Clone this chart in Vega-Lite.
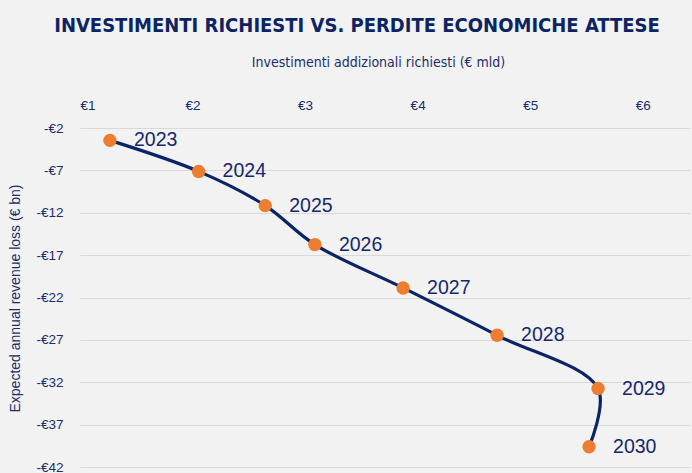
{
  "$schema": "https://vega.github.io/schema/vega-lite/v6.json",
  "autosize": {"type": "none"},
  "width": 610,
  "height": 339,
  "padding": {"left": 80, "top": 128, "right": 2, "bottom": 6},
  "background": "#f2f2f2",
  "config": {
    "view": {"stroke": null},
    "font": "Liberation Sans"
  },
  "title": {
    "text": "INVESTIMENTI RICHIESTI VS. PERDITE ECONOMICHE ATTESE",
    "font": "DejaVu Sans Condensed, Liberation Sans",
    "fontSize": 20,
    "fontWeight": "bold",
    "color": "#0c2461",
    "anchor": "middle",
    "dx": -28,
    "offset": 19
  },
  "data": {
    "values": [
      {"year": 2023, "inv": 1.266, "loss": -3.46},
      {"year": 2024, "inv": 2.054, "loss": -7.12},
      {"year": 2025, "inv": 2.646, "loss": -11.16},
      {"year": 2026, "inv": 3.087, "loss": -15.76},
      {"year": 2027, "inv": 3.871, "loss": -20.87},
      {"year": 2028, "inv": 4.706, "loss": -26.46},
      {"year": 2029, "inv": 5.603, "loss": -32.74},
      {"year": 2030, "inv": 5.523, "loss": -39.62}
    ]
  },
  "encoding": {
    "x": {
      "field": "inv",
      "type": "quantitative",
      "scale": {"domain": [1, 6.42], "nice": false, "zero": false},
      "axis": {
        "orient": "top",
        "title": "Investimenti addizionali richiesti (€ mld)",
        "titleFont": "DejaVu Sans Condensed, Liberation Sans",
        "titleFontSize": 14,
        "titleFontWeight": "normal",
        "titleColor": "#1a2d6b",
        "titleX": 298,
        "titleY": -66,
        "titleBaseline": "middle",
        "values": [1, 2, 3, 4, 5, 6],
        "labelExpr": "'€' + datum.value",
        "labelFontSize": 13.5,
        "labelColor": "#1a2d6b",
        "labelPadding": 16,
        "domain": false,
        "ticks": false,
        "grid": false
      }
    },
    "y": {
      "field": "loss",
      "type": "quantitative",
      "scale": {"domain": [-42, -2], "nice": false, "zero": false},
      "axis": {
        "title": "Expected annual revenue loss (€ bn)",
        "titleFontSize": 14,
        "titleFontWeight": "normal",
        "titleColor": "#1a2d6b",
        "titleX": -65,
        "titleY": 170,
        "titleBaseline": "middle",
        "values": [-2, -7, -12, -17, -22, -27, -32, -37, -42],
        "labelExpr": "'-€' + abs(datum.value)",
        "labelFontSize": 13.5,
        "labelColor": "#1a2d6b",
        "labelPadding": 17,
        "domain": false,
        "ticks": false,
        "grid": true,
        "gridColor": "#d9d9d9",
        "gridWidth": 1
      }
    }
  },
  "layer": [
    {
      "mark": {"type": "line", "interpolate": "catmull-rom", "color": "#0b2466", "strokeWidth": 3.2},
      "encoding": {"order": {"field": "year", "type": "quantitative"}}
    },
    {
      "mark": {"type": "circle", "size": 180, "color": "#ed7d31", "opacity": 1}
    },
    {
      "mark": {"type": "text", "align": "left", "baseline": "middle", "dx": 24, "fontSize": 19.5, "color": "#14286b", "font": "Liberation Sans"},
      "encoding": {"text": {"field": "year", "type": "nominal"}}
    }
  ]
}
